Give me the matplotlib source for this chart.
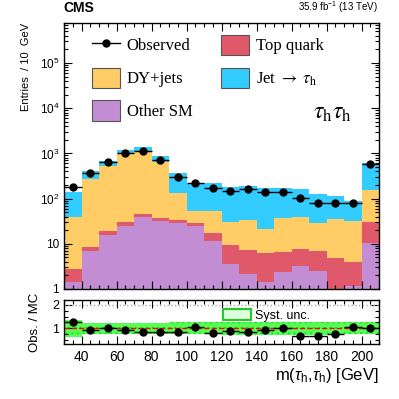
import numpy as np
import matplotlib
matplotlib.use("Agg")
import matplotlib.pyplot as plt
from matplotlib.patches import Patch
from matplotlib.lines import Line2D
from matplotlib.ticker import FixedLocator, NullFormatter, MultipleLocator

plt.rcParams['font.family'] = ['Liberation Sans', 'DejaVu Sans']
plt.rcParams['mathtext.fontset'] = 'custom'
plt.rcParams['mathtext.rm'] = 'Liberation Sans'
plt.rcParams['mathtext.it'] = 'Liberation Sans:italic'
plt.rcParams['hatch.linewidth'] = 0.6

# ---- data ----
edges = np.arange(30, 211, 10)
other_sm = [1.4, 7.0, 16, 25, 39, 32, 29, 24.5, 11.8, 3.5, 2.2, 1.4, 2.4, 3.2, 2.5, 0.5, 1.15, 10.4]
top_quark = [1.3, 1.5, 3.4, 4.7, 5.8, 5.9, 5.1, 4.3, 5.9, 5.7, 5.2, 4.8, 4.1, 4.4, 4.5, 4.3, 2.75, 20.6]
dy_jets = [37, 270, 503, 970, 1105, 592, 100, 23.2, 36.3, 21.1, 26.6, 15.3, 30.1, 31, 21.5, 30, 27.4, 124]
jet_fake = [100, 121, 148, 170, 250, 250, 238, 160, 163, 148, 161, 146, 135, 126, 98, 77, 56, 445]
observed = [185, 361, 645, 1005, 1110, 710, 297, 224, 169, 150, 160, 141, 141, 103, 80, 78, 78, 585]
ratio = [1.28, 0.95, 1.01, 0.93, 0.86, 0.86, 0.83, 1.07, 0.81, 0.87, 0.84, 0.92, 1.02, 0.67, 0.69, 0.76, 1.05, 1.02]
syst = [0.37, 0.24, 0.24, 0.24, 0.24, 0.24, 0.25, 0.26, 0.26, 0.27, 0.27, 0.27, 0.27, 0.28, 0.28, 0.26, 0.25, 0.25]

c_other = '#c28dd2'
c_top = '#e0596b'
c_dy = '#ffcc66'
c_jet = '#33ccff'
c_band = '#55ff55'
c_hatch = '#11dd11'

fig = plt.figure(figsize=(3.99, 3.99), dpi=100)
ax = fig.add_axes([0.1604, 0.2757, 0.7895, 0.6667])
rax = fig.add_axes([0.1604, 0.1378, 0.7895, 0.1103])

centers = 0.5 * (edges[:-1] + edges[1:])
layers = [(other_sm, c_other), (top_quark, c_top), (dy_jets, c_dy), (jet_fake, c_jet)]
base = np.full(len(centers), 1e-3)
for vals, col in layers:
    top = base + np.array(vals)
    ax.stairs(top, edges, baseline=base, fill=True, color=col, lw=0)
    base = top

ax.errorbar(centers, observed, xerr=5, yerr=np.sqrt(observed), fmt='o', color='black',
            ms=5, lw=1.0, capsize=0)
ax.set_yscale('log')
ax.set_xlim(30, 210)
ax.set_ylim(1, 7.7e5)

for a in (ax, rax):
    a.tick_params(which='both', direction='in', top=True, right=True, width=0.8)
    a.tick_params(which='major', length=6)
    a.tick_params(which='minor', length=3)
    a.xaxis.set_major_locator(MultipleLocator(20))
    a.xaxis.set_minor_locator(MultipleLocator(5))
    for s in a.spines.values():
        s.set_linewidth(1.0)

ax.yaxis.set_major_locator(FixedLocator([1, 10, 1e2, 1e3, 1e4, 1e5]))
ax.set_yticklabels(['1', '10', '$10^{2}$', '$10^{3}$', '$10^{4}$', '$10^{5}$'], fontsize=8.5)
ax.yaxis.set_minor_locator(matplotlib.ticker.LogLocator(base=10, subs=np.arange(2, 10), numticks=20))
ax.yaxis.set_minor_formatter(NullFormatter())
ax.xaxis.set_major_formatter(NullFormatter())
ax.set_ylabel('Entries  / 10  GeV', fontsize=8, loc='top', labelpad=6)

# legend
handles = [
    Line2D([0], [0], marker='o', color='black', ms=5, lw=1.0),
    Patch(facecolor=c_dy, edgecolor='#555555', lw=0.8),
    Patch(facecolor=c_other, edgecolor='#555555', lw=0.8),
    Patch(facecolor=c_top, edgecolor='#555555', lw=0.8),
    Patch(facecolor=c_jet, edgecolor='#555555', lw=0.8),
]
labels = ['Observed', 'DY+jets', 'Other SM', 'Top quark', r'Jet $\rightarrow$ $\tau_{\mathrm{h}}$']
leg = ax.legend(handles, labels, ncol=2, loc='upper left', bbox_to_anchor=(0.04, 1.012),
                frameon=False, prop={'family': 'Liberation Serif', 'size': 12},
                handlelength=1.7, handleheight=1.5, labelspacing=0.75, columnspacing=1.7,
                handletextpad=0.4)
for t in leg.get_texts():
    t.set_math_fontfamily('stix')

ax.text(0.915, 0.66, r'$\tau_{\mathrm{h}}\tau_{\mathrm{h}}$', transform=ax.transAxes,
        fontsize=17, ha='right', va='center', math_fontfamily='stix')

fig.text(0.158, 0.962, 'CMS', fontsize=10, fontweight='bold', ha='left', va='bottom')
fig.text(0.948, 0.962, r'35.9 fb$^{-1}$ (13 TeV)', fontsize=7, ha='right', va='bottom')

# ratio panel
lo = np.r_[1 - np.array(syst), 1 - syst[-1]]
hi = np.r_[1 + np.array(syst), 1 + syst[-1]]
rax.fill_between(edges, lo, hi, step='post', facecolor=c_band, edgecolor=c_hatch, hatch='...', lw=0)
rax.axhline(1, color='red', ls='--', lw=1.0)
rax.axhline(2, color='#aaaaaa', ls=':', lw=1.0)
rax.errorbar(centers, ratio, xerr=5, yerr=0.03, fmt='o', color='black', ms=5, lw=1.0, capsize=0)
rax.set_xlim(30, 210)
rax.set_ylim(0.33, 2.21)
rax.yaxis.set_major_locator(FixedLocator([1, 2]))
rax.yaxis.set_minor_locator(MultipleLocator(0.25))
rax.set_yticklabels(['1', '2'], fontsize=9)
rax.tick_params(axis='x', labelsize=10, pad=4)
rax.set_ylabel('Obs. / MC', fontsize=9.5, labelpad=8)
rax.set_xlabel(r'm($\tau_{\mathrm{h}}$,$\tau_{\mathrm{h}}$) [GeV]', fontsize=12, loc='right', labelpad=2)
ph = Patch(facecolor='#ddffdd', edgecolor='#22cc22', lw=1.5)
rax.legend([ph], ['Syst. unc.'], loc='upper left', bbox_to_anchor=(0.47, 1.04), frameon=False,
           fontsize=9, handlelength=2.2, handleheight=0.9, handletextpad=0.3)

fig.savefig('out.png', dpi=100)
